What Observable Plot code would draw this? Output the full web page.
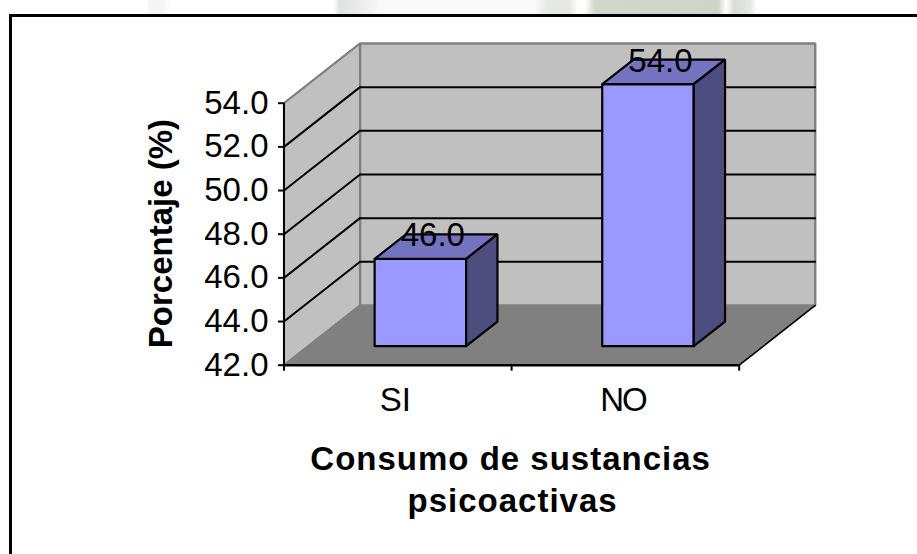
<!DOCTYPE html>
<html><head><meta charset="utf-8">
<script src="https://cdn.jsdelivr.net/npm/d3@7"></script>
<script src="https://cdn.jsdelivr.net/npm/@observablehq/plot@0.6"></script>
<style>
html,body{margin:0;padding:0;background:#fff;width:917px;height:554px;overflow:hidden}
#strip{position:absolute;left:0;top:0;width:917px;height:15px;background:linear-gradient(90deg,#fff 146px,#f4f5f4 150px,#f4f5f4 164px,#fff 170px,#fff 333px,#dde3dc 340px,#eef1ee 368px,#f8f9f8 380px,#f8f9f8 535px,#e4e9e2 548px,#e4e9e2 570px,#fff 578px,#fff 585px,#d0d8cc 595px,#ccd5c8 718px,#fff 726px,#d6ddd2 734px,#e4e9e2 750px,#fff 757px)}
#frame{position:absolute;left:8.5px;top:14px;right:0;bottom:0;background:#fff;border-top:3px solid #000;border-left:3px solid #000}
#chart{position:absolute;left:0;top:0}
</style></head><body>
<div id="strip"></div><div id="frame"></div><div id="chart"></div>
<script>
const categories = ["SI", "NO"];
const values = [46.0, 54.0];
const yTicks = [42, 44, 46, 48, 50, 52, 54];
const yDomain = [42, 54];
const yTitle = "Porcentaje (%)";
const xTitleLines = ["Consumo de sustancias", "psicoactivas"];

// Oblique projection: one unit of depth expressed in scale units
const DX = 0.334, DY = 2.735;
const P = (x, v, z) => ({x: x + z * DX, y: v + z * DY});
const close = (pts) => [...pts, pts[0]];
const face = (pts, fill, stroke, strokeWidth = 2) =>
  Plot.line(close(pts), {x: "x", y: "y", fill, stroke, strokeWidth, strokeLinejoin: "miter", curve: "linear"});
const seg = (a, b, stroke, strokeWidth = 2) =>
  Plot.line([a, b], {x: "x", y: "y", stroke, strokeWidth, curve: "linear"});

const [y0, y1] = yDomain;
const xMax = categories.length;
const inner = yTicks.filter(t => t > y0 && t < y1);

const barMarks = categories.flatMap((c, i) => {
  const a = i + 0.292, b = i + 0.694, z0 = 0.318, z1 = 0.73, v = values[i];
  return [
    face([P(a, y0, z0), P(b, y0, z0), P(b, v, z0), P(a, v, z0)], "#9999FF", "#000", 2.2),
    face([P(a, v, z0), P(b, v, z0), P(b, v, z1), P(a, v, z1)], "#7373BF", "#000", 2.2),
    face([P(b, y0, z0), P(b, y0, z1), P(b, v, z1), P(b, v, z0)], "#4D4D80", "#000", 2.2)
  ];
});

const titleMark = (text, dx, dy) =>
  Plot.text([text], {x: () => 1, y: () => y0, text: d => d, fontSize: 33, fontWeight: "bold", dx, dy});

const chart = Plot.plot({
  width: 917, height: 554,
  marginLeft: 283.5, marginRight: 178.3, marginTop: 102.7, marginBottom: 189.3,
  style: {background: "transparent", fontFamily: "'Liberation Sans', Arial, sans-serif", color: "#000"},
  x: {domain: [0, xMax]},
  y: {domain: yDomain},
  marks: [
    face([P(0, y0, 1), P(xMax, y0, 1), P(xMax, y1, 1), P(0, y1, 1)], "#C0C0C0", "#808080", 2.4),
    face([P(0, y0, 0), P(0, y1, 0), P(0, y1, 1), P(0, y0, 1)], "#C0C0C0", "#808080", 2.2),
    ...inner.map(t => seg(P(0, t, 1), P(xMax, t, 1), "#000")),
    ...inner.map(t => seg(P(0, t, 0), P(0, t, 1), "#000")),
    face([P(0, y0, 0), P(xMax, y0, 0), P(xMax, y0, 1), P(0, y0, 1)], "#808080", "#808080", 1),
    seg(P(xMax, y0, 0), P(xMax, y0, 1), "#000", 1.6),
    ...barMarks,
    Plot.axisY({ticks: yTicks, tickFormat: d => d.toFixed(1), tickSize: 5.5, tickPadding: 10, fontSize: 33, label: null, strokeWidth: 2}),
    Plot.ruleX([0], {y1: y0, y2: y1, stroke: "#000", strokeWidth: 2}),
    Plot.axisX({ticks: d3.range(xMax + 1), tickFormat: () => "", tickSize: 6, label: null, strokeWidth: 2}),
    Plot.ruleY([y0], {stroke: "#000", strokeWidth: 2.6}),
    Plot.text(categories, {x: (d, i) => i + 0.5, y: () => y0, text: d => d, fontSize: 33, dx: -2.5, dy: 35}),
    Plot.text(values, {x: (d, i) => i + 0.5, y: d => d, text: d => d.toFixed(1), fontSize: 33, dx: 35, dy: -42, fill: "#000"}),
    Plot.text([yTitle], {x: () => 0, y: () => 48.03, text: d => d, rotate: -90, fontSize: 33, fontWeight: "bold", dx: -123}),
    titleMark(xTitleLines[0], -1, 94),
    titleMark(xTitleLines[1], 1, 136)
  ]
});
d3.select(chart).selectAll("text")
  .filter(function () { return xTitleLines.includes(this.textContent); })
  .style("letter-spacing", "1px");
d3.select(chart).selectAll("text")
  .filter(function () { return this.textContent === "NO"; })
  .style("letter-spacing", "-2px");
document.getElementById("chart").append(chart);
</script></body></html>
